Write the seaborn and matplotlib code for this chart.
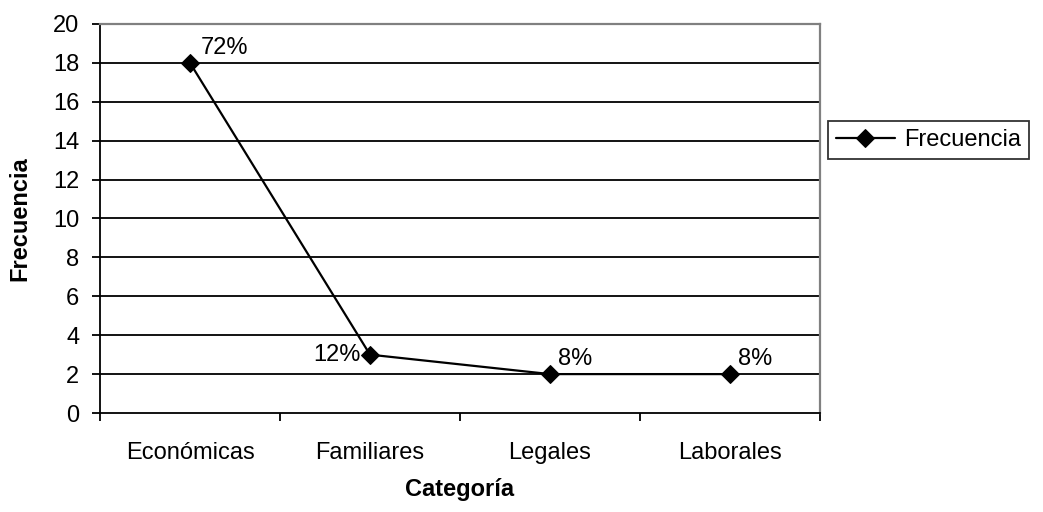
import matplotlib
matplotlib.use("Agg")
import matplotlib.pyplot as plt
import seaborn as sns
import pandas as pd
from matplotlib.ticker import FixedLocator, NullFormatter

categorias = ["Económicas", "Familiares", "Legales", "Laborales"]
frecuencia = [18, 3, 2, 2]
porcentajes = ["72%", "12%", "8%", "8%"]
y_ticks = [0, 2, 4, 6, 8, 10, 12, 14, 16, 18, 20]

df = pd.DataFrame({"Categoría": categorias, "Frecuencia": frecuencia})
df["pos"] = range(len(categorias))

sns.set_theme(style="white")
plt.rcParams["font.family"] = ["Liberation Sans", "DejaVu Sans"]
plt.rcParams["text.color"] = "black"
plt.rcParams["axes.labelcolor"] = "black"
plt.rcParams["xtick.color"] = "black"
plt.rcParams["ytick.color"] = "black"

FS = 17

fig = plt.figure(figsize=(10.43, 5.12), dpi=100)
ax = fig.add_axes([100 / 1043, 1 - 413 / 512, 720 / 1043, 389 / 512])

sns.lineplot(data=df, x="pos", y="Frecuencia", ax=ax, color="black",
             marker="D", markersize=9, linewidth=1.6, markeredgecolor="black",
             label="Frecuencia")

ax.set_xlim(-0.5, len(categorias) - 0.5)
ax.set_ylim(0, 20)
ax.set_yticks(y_ticks)
ax.set_yticklabels([str(t) for t in y_ticks])
for t in y_ticks[1:]:
    ax.axhline(t, color="black", linewidth=1.3, zorder=0)

ax.xaxis.set_major_locator(FixedLocator([i - 0.5 for i in range(len(categorias) + 1)]))
ax.xaxis.set_major_formatter(NullFormatter())
ax.xaxis.set_minor_locator(FixedLocator(list(range(len(categorias)))))
ax.set_xticklabels(categorias, minor=True)
ax.tick_params(axis="x", which="major", direction="out", length=6, width=1.3, color="black", bottom=True)
ax.tick_params(axis="x", which="minor", length=0, pad=21, labelsize=FS)
ax.tick_params(axis="y", direction="out", length=6, width=1.3, color="black", left=True, labelsize=FS, pad=9)

for s in ["left", "bottom"]:
    ax.spines[s].set_color("black")
    ax.spines[s].set_linewidth(1.3)
for s in ["top", "right"]:
    ax.spines[s].set_color("#808080")
    ax.spines[s].set_linewidth(1.6)

ax.set_xlabel("Categoría", fontsize=FS, fontweight="bold", labelpad=10)
ax.set_ylabel("Frecuencia", fontsize=FS, fontweight="bold")
ax.yaxis.set_label_coords(-0.096, 0.5)

# (dx, dy) offsets in pixels for label centers, alignment
offsets = [(11, 15, "left"), (-9, 0, "right"), (8, 15, "left"), (8, 15, "left")]
for i, (v, lab) in enumerate(zip(frecuencia, porcentajes)):
    dx, dy, ha = offsets[i]
    ax.annotate(lab, (i, v), xytext=(dx * 0.72, dy * 0.72), textcoords="offset points",
                ha=ha, va="center", fontsize=FS)

leg = ax.legend(loc="center left", bbox_to_anchor=(828 / 1043, 1 - 140 / 512),
                bbox_transform=fig.transFigure, fontsize=FS, frameon=True,
                fancybox=False, edgecolor="black", handlelength=2.5,
                borderpad=0.32, handletextpad=0.4, borderaxespad=0)
leg.get_frame().set_linewidth(1.3)

fig.savefig("out.png", dpi=100)
